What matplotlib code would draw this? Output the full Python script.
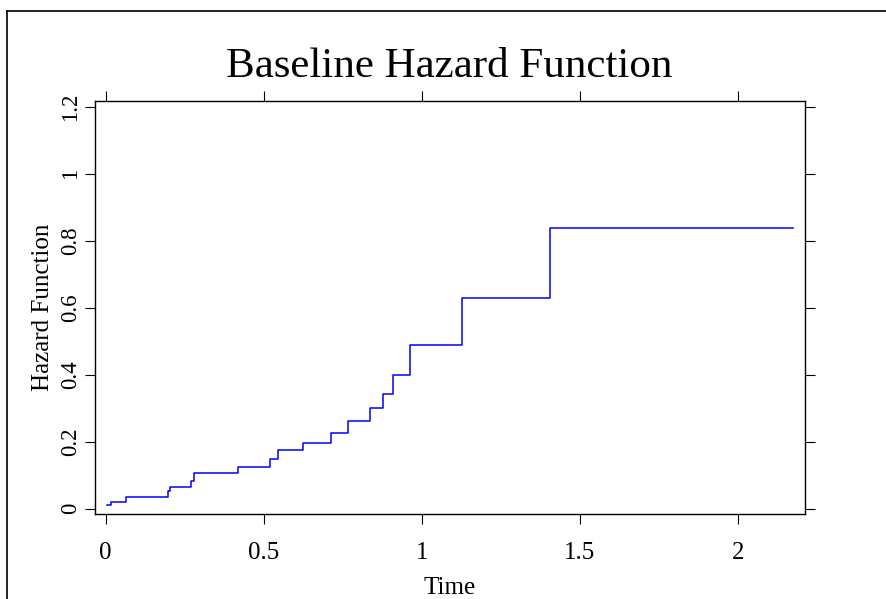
import matplotlib
matplotlib.use('Agg')
import matplotlib.pyplot as plt
from matplotlib.lines import Line2D

plt.rcParams['font.family'] = ['Liberation Serif', 'DejaVu Serif']

# step times and cumulative baseline hazard
time = [0.003, 0.017, 0.063, 0.196, 0.204, 0.271, 0.280, 0.417, 0.521, 0.545,
        0.623, 0.713, 0.766, 0.835, 0.878, 0.910, 0.963, 1.127, 1.405, 2.176]
hazard = [0.012, 0.021, 0.036, 0.052, 0.066, 0.084, 0.106, 0.124, 0.147, 0.174,
          0.195, 0.227, 0.262, 0.301, 0.342, 0.400, 0.488, 0.630, 0.839, 0.839]

x_ticks = [0, 0.5, 1, 1.5, 2]
x_labels = ['0', '0.5', '1', '1.5', '2']
y_ticks = [0, 0.2, 0.4, 0.6, 0.8, 1, 1.2]
y_labels = ['0', '0.2', '0.4', '0.6', '0.8', '1', '1.2']

fig = plt.figure(figsize=(8.87, 5.99), dpi=100)
ax = fig.add_axes([95/887, 85/599, 710/887, 413/599])

ax.plot(time, hazard, drawstyle='steps-post', color='#0000ff', lw=1.1)

ax.set_xlim(-0.034, 2.213)
ax.set_ylim(-0.016, 1.217)
ax.set_xticks(x_ticks)
ax.set_xticklabels(x_labels, fontsize=18)
ax.set_yticks(y_ticks)
ax.set_yticklabels(y_labels, fontsize=16.5, rotation=90, va='center')

ax.tick_params(direction='out', length=7.2, width=0.8, top=True, right=True,
               labeltop=False, labelright=False)
ax.tick_params(axis='x', pad=13)
ax.tick_params(axis='y', pad=2.5)
for s in ax.spines.values():
    s.set_linewidth(1.0)

ax.set_xlabel('Time', fontsize=18, va='baseline')
ax.xaxis.set_label_coords(0.5, (514 - 594) / 413)
ax.set_ylabel('Hazard Function', fontsize=18, va='baseline')
ax.yaxis.set_label_coords((49.5 - 95) / 710, 0.5)

fig.text(0.5068, (599 - 76.7) / 599, 'Baseline Hazard Function', fontsize=31,
         ha='center', va='baseline')

# outer frame (only top and left edges visible)
fig.add_artist(Line2D([7.5/887, 7.5/887], [0, 1 - 10.5/599], color='black', lw=1.2,
                      transform=fig.transFigure))
fig.add_artist(Line2D([7.5/887, 1], [1 - 10.5/599, 1 - 10.5/599], color='black', lw=1.2,
                      transform=fig.transFigure))

fig.savefig('out.png', dpi=100)
